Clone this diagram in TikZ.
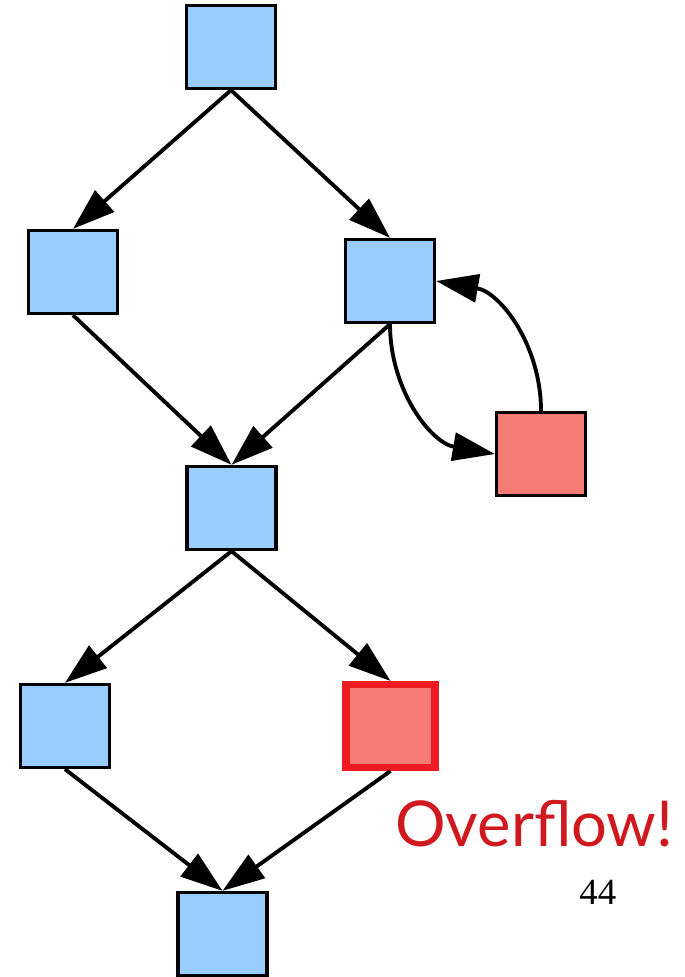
\documentclass[tikz,border=0pt]{standalone}
\usepackage{fontspec}
\newfontfamily\latofont{Lato}
\newfontfamily\timesfont{Liberation Serif}
\usetikzlibrary{arrows.meta}
\definecolor{boxblue}{HTML}{99CCFF}
\definecolor{boxred}{HTML}{F47C72}
\definecolor{edgered}{HTML}{ED1C24}
\definecolor{textred}{HTML}{D0191F}
\tikzset{
	blk/.style={draw=black, fill=boxblue, line width=1.9pt, minimum width=1.78cm, minimum height=1.66cm, inner sep=0pt},
	redblk/.style={blk, fill=boxred},
	hotblk/.style={blk, fill=boxred, draw=edgered, line width=4pt},
	arr/.style={line width=2.2pt, -{Triangle[length=24pt,width=16pt]}}
}

\begin{document}
\begin{tikzpicture}[x=0.02cm, y=0.02cm]
			%%%%% START %%%%%
			\useasboundingbox (0, 0) rectangle (685, -977);
			
			\node[blk] (top) at (231, -47) {};
			\node[blk] (left1) at (73, -272) {};
			\node[blk] (right1) at (390, -281) {};
			\node[redblk] (side) at (541, -454) {};
			\node[blk] (mid) at (231.5, -508) {};
			\node[blk] (left2) at (65, -726) {};
			\node[hotblk] (right2) at (390.5, -726) {};
			\node[blk] (bot) at (222.5, -934) {};
			
			\draw[arr] (top.south) -- (left1.north);
			\draw[arr] (top.south) -- (right1.north);
			\draw[arr] (left1.south) -- (mid.north);
			\draw[arr] (right1.south) -- (mid.north);
			\draw[arr] (right1.south) to[out=-90, in=170] (side.west);
			\draw[arr] (side.north) to[out=90, in=-10] (right1.east);
			\draw[arr] (mid.south) -- (left2.north);
			\draw[arr] (mid.south) -- (right2.north);
			\draw[arr] (left2.south) -- (bot.north);
			\draw[arr] (right2.south) -- (bot.north);
			
			\node[anchor=base west, inner sep=0pt, text=textred, font=\latofont\fontsize{36}{40}\selectfont] (ovf) at (395, -846) {Overflow!};
			\node[anchor=base west, inner sep=0pt, font=\timesfont\fontsize{21}{24}\selectfont] (pnum) at (579, -904) {44};
			
			%%%%% END %%%%%
\end{tikzpicture}
\end{document}
